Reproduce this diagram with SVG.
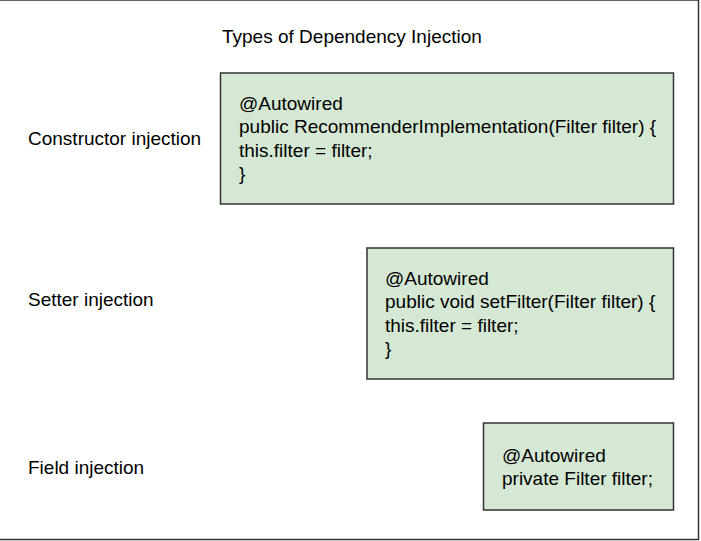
<svg xmlns="http://www.w3.org/2000/svg" width="701" height="541" viewBox="0 0 701 541">
<style>
text{font-family:"Liberation Sans",Arial,sans-serif;font-size:19px;fill:#000}
.box{fill:#d5e8d4;stroke:#333;stroke-width:1.5}
</style>
<rect x="-1" y="0" width="699.5" height="539.5" fill="#fff" stroke="#333" stroke-width="1.5"/>
<g id="title"><text x="222" y="42.5">Types of Dependency Injection</text></g>
<g id="label-constructor"><text x="28" y="145">Constructor injection</text></g>
<g id="label-setter"><text x="28" y="305.5">Setter injection</text></g>
<g id="label-field"><text x="28" y="473.5">Field injection</text></g>
<g id="box-constructor">
<rect class="box" x="220.5" y="73" width="453" height="131"/>
<text x="239" y="110">@Autowired</text>
<text x="239" y="133.3">public RecommenderImplementation(Filter filter) {</text>
<text x="239" y="156.7">this.filter = filter;</text>
<text x="239" y="180">}</text>
</g>
<g id="box-setter">
<rect class="box" x="367" y="248" width="306.5" height="131"/>
<text x="385" y="285">@Autowired</text>
<text x="385" y="308.3">public void setFilter(Filter filter) {</text>
<text x="385" y="331.7">this.filter = filter;</text>
<text x="385" y="355">}</text>
</g>
<g id="box-field">
<rect class="box" x="483.5" y="423" width="190" height="87"/>
<text x="502" y="461.5">@Autowired</text>
<text x="502" y="484.8">private Filter filter;</text>
</g>
<g id="connectors"></g>
</svg>
